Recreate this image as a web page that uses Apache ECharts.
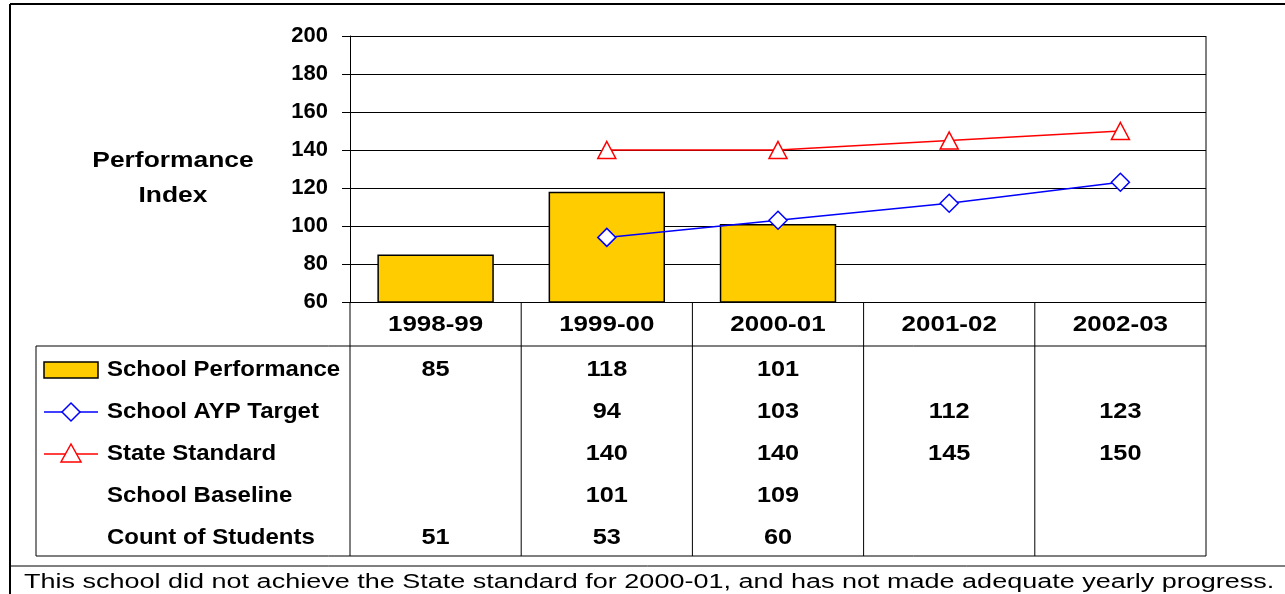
<!DOCTYPE html>
<html><head><meta charset="utf-8">
<script src="https://cdn.jsdelivr.net/npm/echarts@6/dist/echarts.min.js"></script>
<style>html,body{margin:0;padding:0;background:#fff}#c{width:1285px;height:594px}</style>
</head><body><div id="c"></div>
<script>
const years = ["1998-99", "1999-00", "2000-01", "2001-02", "2002-03"];
const schoolPerformance = [85, 118, 101, null, null];
const aypTarget = [null, 94, 103, 112, 123];
const stateStandard = [null, 140, 140, 145, 150];
const schoolBaseline = [null, 101, 109, null, null];
const studentCount = [51, 53, 60, null, null];
const note = "This school did not achieve the State standard for 2000-01, and has not made adequate yearly progress.";

const F = "Arial, 'Liberation Sans', sans-serif";
const G = { left: 350, top: 36, width: 856, height: 266 };
const cw = G.width / years.length;
const rowTop = 349, rowH = 42;

const rows = [
  ["School Performance", schoolPerformance, "bar"],
  ["School AYP Target", aypTarget, "blue"],
  ["State Standard", stateStandard, "red"],
  ["School Baseline", schoolBaseline, null],
  ["Count of Students", studentCount, null],
];

const gfx = [];
const line = (x1, y1, x2, y2, w) => gfx.push({ type: "line", shape: { x1, y1, x2, y2 }, style: { stroke: "#000", lineWidth: w || 1 }, silent: true });
const txt = (x, y, text, font, align, sx) => gfx.push({ type: "text", x, y, scaleX: sx, style: { text, font: font + " " + F, fill: "#000", align, verticalAlign: "middle" } });
// outer frame
line(10, 4, 1285, 4, 2);
line(10, 4, 10, 594, 2);
line(10, 566, 1285, 566, 1);
// table lines
line(36, 346, G.left + G.width, 346);
line(36, 556, G.left + G.width, 556);
line(36, 346, 36, 556);
for (let i = 0; i <= years.length; i++) {
  const x = G.left + cw * i;
  line(x, G.top + G.height, x, 556);
}
years.forEach((y, i) => txt(G.left + cw * (i + 0.5), 325, y, "bold 22px", "center", 1.18));
rows.forEach(([name, vals, key], r) => {
  const cy = rowTop + rowH * (r + 0.5);
  txt(107, cy, name, "bold 22px", "left", 1.09);
  vals.forEach((v, i) => { if (v != null) txt(G.left + cw * (i + 0.5), cy, String(v), "bold 22px", "center", 1.15); });
  if (key === "bar") gfx.push({ type: "rect", shape: { x: 44, y: cy - 8, width: 54, height: 16 }, style: { fill: "#FFCC00", stroke: "#000", lineWidth: 1.5 } });
  if (key === "blue") {
    gfx.push({ type: "line", shape: { x1: 44, y1: cy, x2: 98, y2: cy }, style: { stroke: "#0000FF", lineWidth: 1.5 } });
    gfx.push({ type: "polygon", shape: { points: [[71, cy - 9], [80, cy], [71, cy + 9], [62, cy]] }, style: { fill: "#fff", stroke: "#0000FF", lineWidth: 1.5 } });
  }
  if (key === "red") {
    gfx.push({ type: "line", shape: { x1: 44, y1: cy, x2: 98, y2: cy }, style: { stroke: "#FF0000", lineWidth: 1.5 } });
    gfx.push({ type: "polygon", shape: { points: [[71, cy - 10], [81, cy + 8], [61, cy + 8]] }, style: { fill: "#fff", stroke: "#FF0000", lineWidth: 1.5 } });
  }
});
txt(173, 161, "Performance", "bold 22px", "center", 1.2);
txt(173, 196, "Index", "bold 22px", "center", 1.2);
txt(24, 582, note, "20px", "left", 1.35);
line(G.left + G.width, G.top, G.left + G.width, G.top + G.height);

const chart = echarts.init(document.getElementById("c"));
chart.setOption({
  animation: false,
  grid: G,
  xAxis: { type: "category", data: years, axisLine: { show: false }, axisTick: { show: false }, axisLabel: { show: false } },
  yAxis: {
    type: "value", min: 60, max: 200, interval: 20,
    axisLine: { show: true, lineStyle: { color: "#000", width: 1 } },
    axisTick: { show: true, length: 8, lineStyle: { color: "#000" } },
    axisLabel: { color: "#000", fontFamily: F, fontWeight: "bold", fontSize: 22, margin: 22 },
    splitLine: { lineStyle: { color: "#000", width: 1 } }
  },
  series: [
    { type: "bar", data: schoolPerformance, barWidth: "68%", itemStyle: { color: "#FFCC00", borderColor: "#000", borderWidth: 1.5 } },
    { type: "line", data: aypTarget, symbol: "diamond", symbolSize: [18, 18], lineStyle: { color: "#0000FF", width: 1.5 }, itemStyle: { color: "#fff", borderColor: "#0000FF", borderWidth: 1.5 }, z: 5 },
    { type: "line", data: stateStandard, symbol: "triangle", symbolSize: [18, 17], lineStyle: { color: "#FF0000", width: 1.5 }, itemStyle: { color: "#fff", borderColor: "#FF0000", borderWidth: 1.5 }, z: 5 }
  ],
  graphic: gfx
});
</script></body></html>
